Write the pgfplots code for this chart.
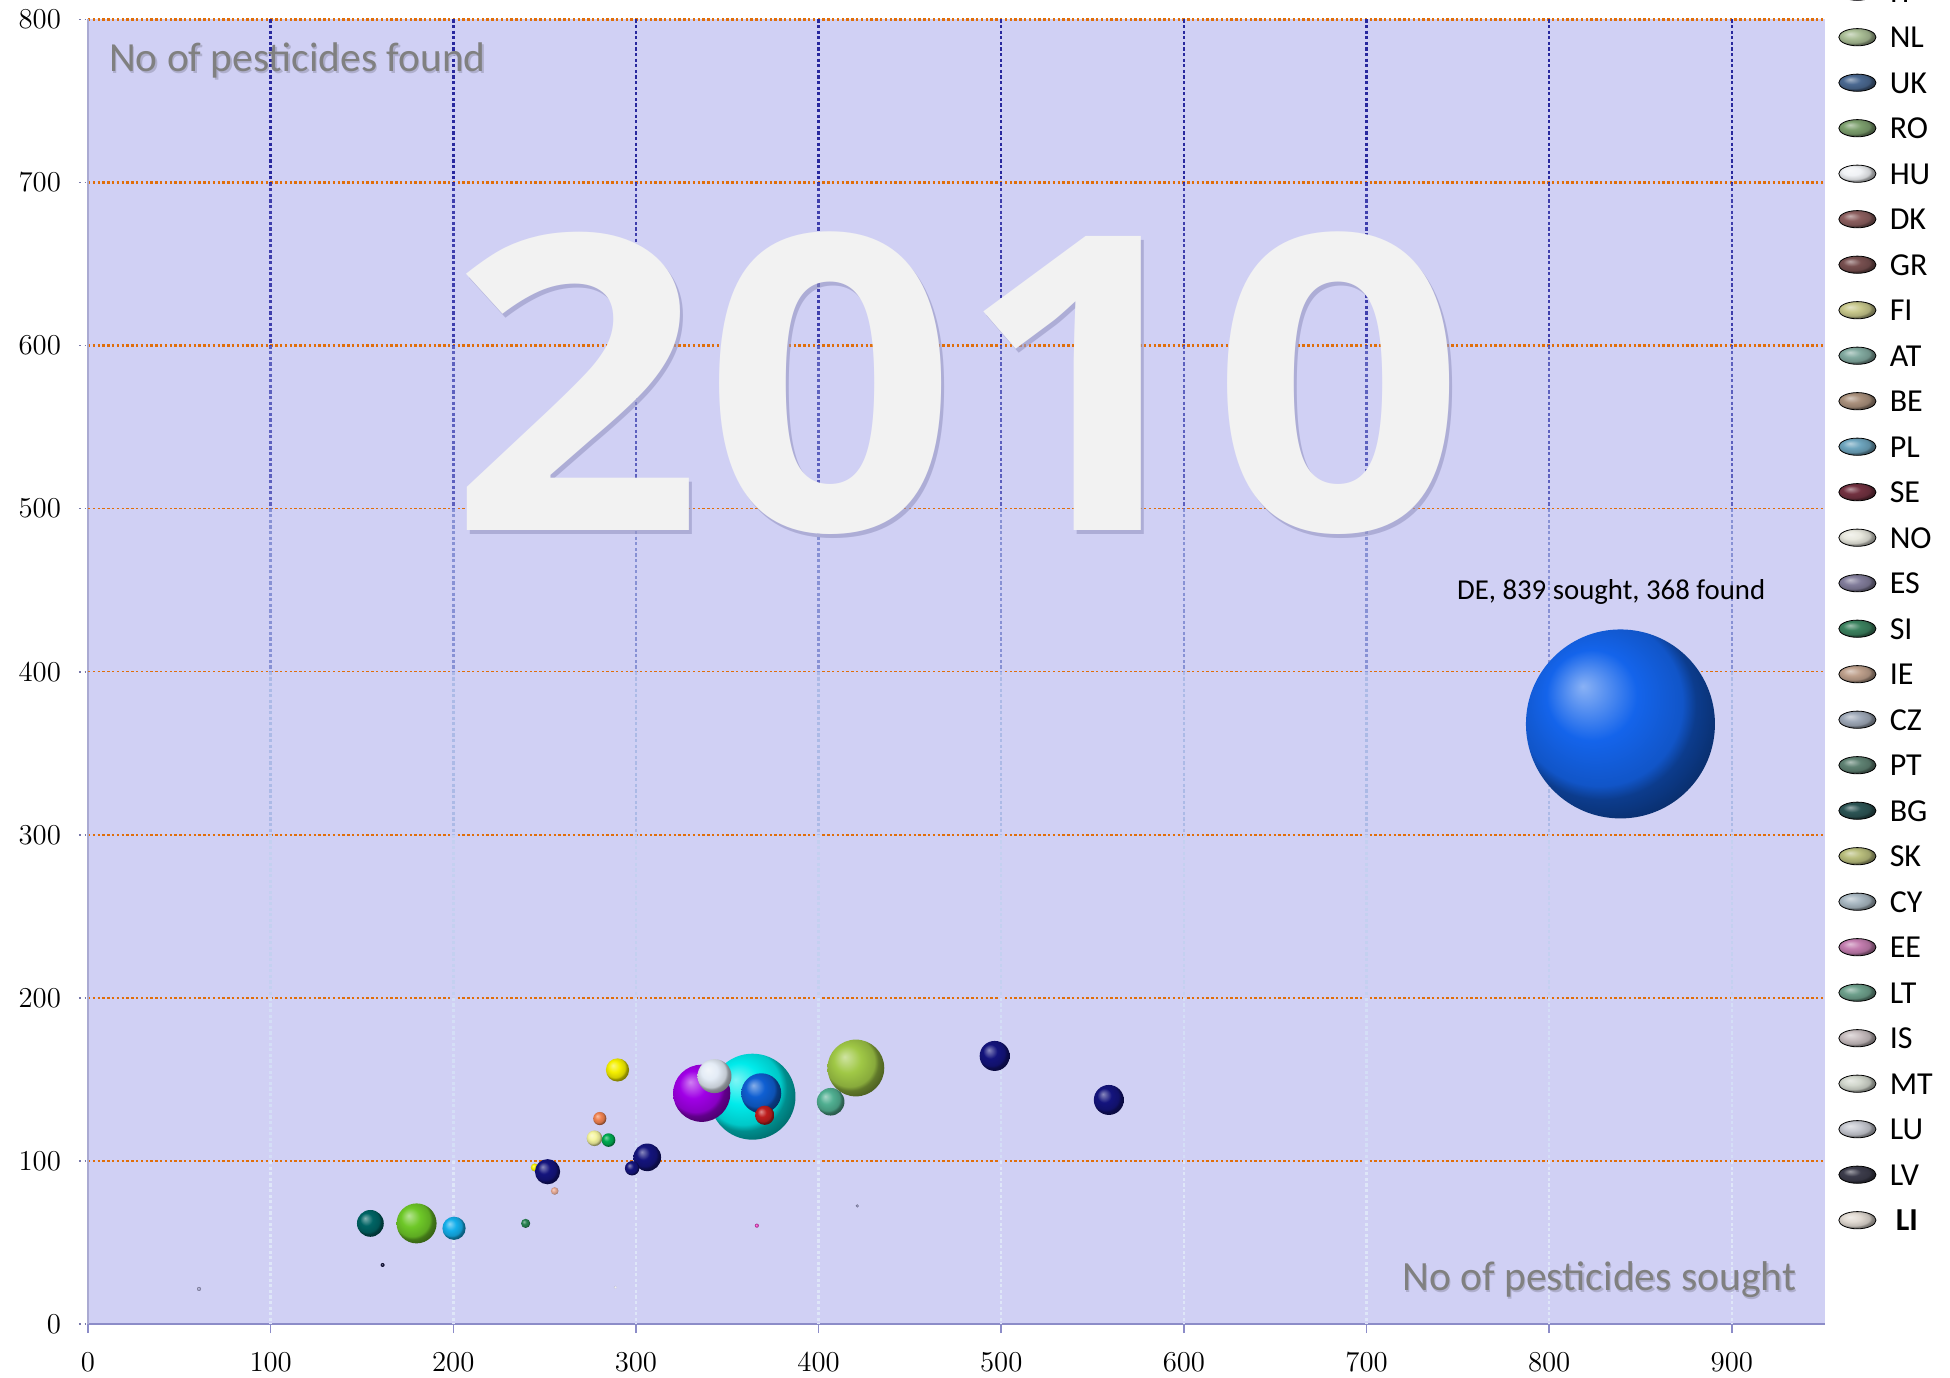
\documentclass[border=0pt]{standalone}
\usepackage{pgfplots}
\pgfplotsset{compat=1.18}
\usepackage{fontspec}
\setmainfont{Carlito}
\newfontfamily\yearfont{Open Sans}
\definecolor{bgc}{RGB}{208,208,244}
\definecolor{orangeg}{RGB}{224,110,10}
\definecolor{xaxc}{RGB}{140,140,200}
\definecolor{yaxc}{RGB}{170,170,210}
\definecolor{ytc}{RGB}{120,120,170}
\definecolor{txtg}{RGB}{128,128,128}
% vertical grid colours, bottom (v1) to top (v8)
\definecolor{v1}{RGB}{222,230,248}
\definecolor{v2}{RGB}{212,222,246}
\definecolor{v3}{RGB}{196,208,240}
\definecolor{v4}{RGB}{172,186,230}
\definecolor{v5}{RGB}{135,145,212}
\definecolor{v6}{RGB}{92,96,190}
\definecolor{v7}{RGB}{62,62,172}
\definecolor{v8}{RGB}{40,40,158}
% bubble colours
\definecolor{bDE}{RGB}{20,100,235}
\definecolor{bcyan}{RGB}{0,235,235}
\definecolor{bpurple}{RGB}{160,0,230}
\definecolor{bwhite}{RGB}{228,236,246}
\definecolor{bblue}{RGB}{15,95,210}
\definecolor{bred}{RGB}{190,30,30}
\definecolor{bygreen}{RGB}{160,200,70}
\definecolor{bteal}{RGB}{80,175,145}
\definecolor{byellow}{RGB}{245,240,0}
\definecolor{borange}{RGB}{240,130,80}
\definecolor{blyellow}{RGB}{245,245,160}
\definecolor{bgreen}{RGB}{0,170,80}
\definecolor{bnavy}{RGB}{20,20,125}
\definecolor{bpink}{RGB}{230,170,150}
\definecolor{bdteal}{RGB}{0,100,100}
\definecolor{blime}{RGB}{110,200,40}
\definecolor{bsky}{RGB}{20,175,235}
\definecolor{bsgreen}{RGB}{40,130,80}
\definecolor{bdark}{RGB}{20,20,60}
\definecolor{bwhitish}{RGB}{240,240,250}
\definecolor{bmagenta}{RGB}{230,60,190}
\definecolor{bgrey}{RGB}{120,120,160}
\definecolor{blgrey}{RGB}{160,160,200}
% legend colours
\definecolor{lIT}{RGB}{155,110,190}
\definecolor{lNL}{RGB}{170,190,150}
\definecolor{lUK}{RGB}{75,105,145}
\definecolor{lRO}{RGB}{125,160,110}
\definecolor{lHU}{RGB}{240,242,245}
\definecolor{lDK}{RGB}{140,95,95}
\definecolor{lGR}{RGB}{120,80,80}
\definecolor{lFI}{RGB}{200,200,140}
\definecolor{lAT}{RGB}{130,170,160}
\definecolor{lBE}{RGB}{170,145,125}
\definecolor{lPL}{RGB}{110,165,190}
\definecolor{lSE}{RGB}{115,50,65}
\definecolor{lNO}{RGB}{232,232,222}
\definecolor{lES}{RGB}{130,125,155}
\definecolor{lSI}{RGB}{60,130,95}
\definecolor{lIE}{RGB}{190,160,140}
\definecolor{lCZ}{RGB}{160,170,185}
\definecolor{lPT}{RGB}{95,130,115}
\definecolor{lBG}{RGB}{45,85,85}
\definecolor{lSK}{RGB}{185,190,125}
\definecolor{lCY}{RGB}{170,185,195}
\definecolor{lEE}{RGB}{195,125,175}
\definecolor{lLT}{RGB}{110,160,140}
\definecolor{lIS}{RGB}{200,190,192}
\definecolor{lMT}{RGB}{210,215,205}
\definecolor{lLU}{RGB}{200,202,210}
\definecolor{lLV}{RGB}{60,60,75}
\definecolor{lLI}{RGB}{225,218,210}

\makeatletter
\pgfdeclareradialshading[tikz@ball]{ball}{\pgfqpoint{-10bp}{10bp}}{%
 color(0bp)=(tikz@ball!50!white); color(12bp)=(tikz@ball);
 color(22bp)=(tikz@ball!85!black); color(25bp)=(tikz@ball!60!black); color(50bp)=(black)}
\makeatother

\tikzset{vg/.style={line width=1.2pt, dash pattern=on 1.6pt off 1.2pt}}
\pgfplotsset{
  bub/.style 2 args={only marks, mark=ball, mark size=#1, mark options={ball color=#2, draw opacity=0, line width=0pt}, forget plot},
  lg/.style={legend image code/.code={\shade[ball color=#1] (9.3pt,5.25pt) ellipse (9.3pt and 4.3pt);}},
}

\begin{document}
\begin{tikzpicture}
\begin{axis}[
  at={(0,0)}, anchor=south west,
  width=868.5pt, height=652.25pt, scale only axis,
  xmin=0, xmax=951, ymin=0, ymax=800,
  xtick={0,100,...,900},
  ytick={0,100,200,300,600,700,800},
  extra y ticks={400,500},
  extra y tick style={major grid style={orangeg, line width=0.6pt, dash pattern=on 1.2pt off 1.2pt}},
  ymajorgrids,
  major grid style={orangeg, line width=1.2pt, dash pattern=on 1.2pt off 1.2pt},
  axis x line*=bottom, axis y line*=left,
  x axis line style={draw=xaxc, line width=1pt, -},
  y axis line style={draw=yaxc, line width=1pt, -},
  tick align=outside, major tick length=4.5pt,
  xtick style={draw=xaxc, line width=0.8pt},
  ytick style={draw=ytc, line width=0.8pt, dotted},
  tick label style={font=\fontsize{15.5}{17}\selectfont, black},
  yticklabel style={xshift=-5.5pt},
  xticklabel style={yshift=-6.5pt},
  axis background/.style={fill=bgc},
  legend style={
    at={(axis description cs:1.00771,1.03166)}, anchor=north west,
    draw=none, fill=none, inner sep=0pt, outer sep=0pt,
    row sep=7.75pt, column sep=0pt,
    font=\fontsize{16}{18}\selectfont,
    nodes={inner sep=0pt, text height=12pt, text depth=3pt},
    cells={anchor=base west},
    /tikz/every odd column/.append style={column sep=6.7pt},
  },
]
% vertical grid segments (fading from dark at the top to light at the bottom)
\pgfplotsinvokeforeach{100,200,...,900}{
  \draw[vg, v8] (axis cs:#1,800) -- (axis cs:#1,700);
  \draw[vg, v7] (axis cs:#1,700) -- (axis cs:#1,600);
  \draw[vg, v6] (axis cs:#1,600) -- (axis cs:#1,500);
  \draw[vg, v5] (axis cs:#1,500) -- (axis cs:#1,400);
  \draw[vg, v4] (axis cs:#1,400) -- (axis cs:#1,300);
  \draw[vg, v3] (axis cs:#1,300) -- (axis cs:#1,200);
  \draw[vg, v2] (axis cs:#1,200) -- (axis cs:#1,100);
  \draw[vg, v1] (axis cs:#1,100) -- (axis cs:#1,0);
}

% big year label
\node[xscale=1.08, font=\fontsize{206}{206}\yearfont\bfseries, text={rgb,255:red,150;green,150;blue,195}, opacity=0.6] at (axis cs:477.5,574.5) {2010};
\node[xscale=1.08, font=\fontsize{206}{206}\yearfont\bfseries, text={rgb,255:red,242;green,242;blue,242}] at (axis cs:476,577) {2010};

% axis captions inside the plot area
\node[anchor=west, font=\fontsize{20.7}{24}\selectfont, text={rgb,255:red,175;green,175;blue,205}] at (axis cs:8.4,773.8) {No of pesticides found};
\node[anchor=west, font=\fontsize{20.7}{24}\selectfont, text=txtg] at (axis cs:7.7,774.6) {No of pesticides found};
\node[anchor=east, font=\fontsize{20.8}{24}\selectfont, text={rgb,255:red,175;green,175;blue,205}] at (axis cs:939.9,26.2) {No of pesticides sought};
\node[anchor=east, font=\fontsize{20.8}{24}\selectfont, text=txtg] at (axis cs:939.2,27) {No of pesticides sought};

% bubbles: x = pesticides sought, y = pesticides found, mark size = bubble radius
\addplot[bub={47.25pt}{bDE}] coordinates {(839,368)};
\addplot[bub={21.5pt}{bcyan}] coordinates {(363.8,139.4)};
\addplot[bub={14.3pt}{bpurple}] coordinates {(336,141.5)};
\addplot[bub={8.5pt}{bwhite}] coordinates {(343,152)};
\addplot[bub={10pt}{bblue}] coordinates {(368.6,141.5)};
\addplot[bub={4.8pt}{bred}] coordinates {(370.5,128)};
\addplot[bub={14.2pt}{bygreen}] coordinates {(420.4,157)};
\addplot[bub={6.9pt}{bteal}] coordinates {(406.6,136.3)};
\addplot[bub={5.8pt}{byellow}] coordinates {(289.9,155.8)};
\addplot[bub={3.3pt}{borange}] coordinates {(280.2,126)};
\addplot[bub={3.9pt}{blyellow}] coordinates {(277.3,113.9)};
\addplot[bub={3.4pt}{bgreen}] coordinates {(285,112.8)};
\addplot[bub={6.9pt}{bnavy}] coordinates {(306.2,102.2)};
\addplot[bub={3.6pt}{bnavy}] coordinates {(297.9,95.5)};
\addplot[bub={2pt}{byellow}] coordinates {(244.6,96)};
\addplot[bub={6.3pt}{bnavy}] coordinates {(251.6,93.4)};
\addplot[bub={1.9pt}{bpink}] coordinates {(255.5,81.6)};
\addplot[bub={6.7pt}{bdteal}] coordinates {(154.6,61.7)};
\addplot[bub={10pt}{blime}] coordinates {(179.9,61.7)};
\addplot[bub={5.8pt}{bsky}] coordinates {(200.4,58.7)};
\addplot[bub={2.3pt}{bsgreen}] coordinates {(239.6,61.7)};
\addplot[bub={1pt}{bdark}] coordinates {(161.3,36.2)};
\addplot[bub={0.75pt}{bwhitish}] coordinates {(288.8,22.5)};
\addplot[bub={1pt}{bmagenta}] coordinates {(366.2,60.3)};
\addplot[bub={0.8pt}{bgrey}] coordinates {(421.2,72.4)};
\addplot[bub={1pt}{blgrey}] coordinates {(60.8,21.5)};
\addplot[bub={7.5pt}{bnavy}] coordinates {(496.4,164.4)};
\addplot[bub={7.5pt}{bnavy}] coordinates {(558.9,137.4)};

\node[font=\fontsize{14.4}{16}\selectfont, black] at (axis cs:833.9,449) {DE, 839 sought, 368 found};

% legend
\addlegendimage{lg=lIT}\addlegendentry{IT}
\addlegendimage{lg=lNL}\addlegendentry{NL}
\addlegendimage{lg=lUK}\addlegendentry{UK}
\addlegendimage{lg=lRO}\addlegendentry{RO}
\addlegendimage{lg=lHU}\addlegendentry{HU}
\addlegendimage{lg=lDK}\addlegendentry{DK}
\addlegendimage{lg=lGR}\addlegendentry{GR}
\addlegendimage{lg=lFI}\addlegendentry{FI}
\addlegendimage{lg=lAT}\addlegendentry{AT}
\addlegendimage{lg=lBE}\addlegendentry{BE}
\addlegendimage{lg=lPL}\addlegendentry{PL}
\addlegendimage{lg=lSE}\addlegendentry{SE}
\addlegendimage{lg=lNO}\addlegendentry{NO}
\addlegendimage{lg=lES}\addlegendentry{ES}
\addlegendimage{lg=lSI}\addlegendentry{SI}
\addlegendimage{lg=lIE}\addlegendentry{IE}
\addlegendimage{lg=lCZ}\addlegendentry{CZ}
\addlegendimage{lg=lPT}\addlegendentry{PT}
\addlegendimage{lg=lBG}\addlegendentry{BG}
\addlegendimage{lg=lSK}\addlegendentry{SK}
\addlegendimage{lg=lCY}\addlegendentry{CY}
\addlegendimage{lg=lEE}\addlegendentry{EE}
\addlegendimage{lg=lLT}\addlegendentry{LT}
\addlegendimage{lg=lIS}\addlegendentry{IS}
\addlegendimage{lg=lMT}\addlegendentry{MT}
\addlegendimage{lg=lLU}\addlegendentry{LU}
\addlegendimage{lg=lLV}\addlegendentry{LV}
\addlegendimage{lg=lLI}\addlegendentry{\hspace{3pt}\textbf{LI}}
\end{axis}
\pgfresetboundingbox
\useasboundingbox (-44pt,-26.5pt) rectangle (931pt,662pt);
\end{tikzpicture}
\end{document}
